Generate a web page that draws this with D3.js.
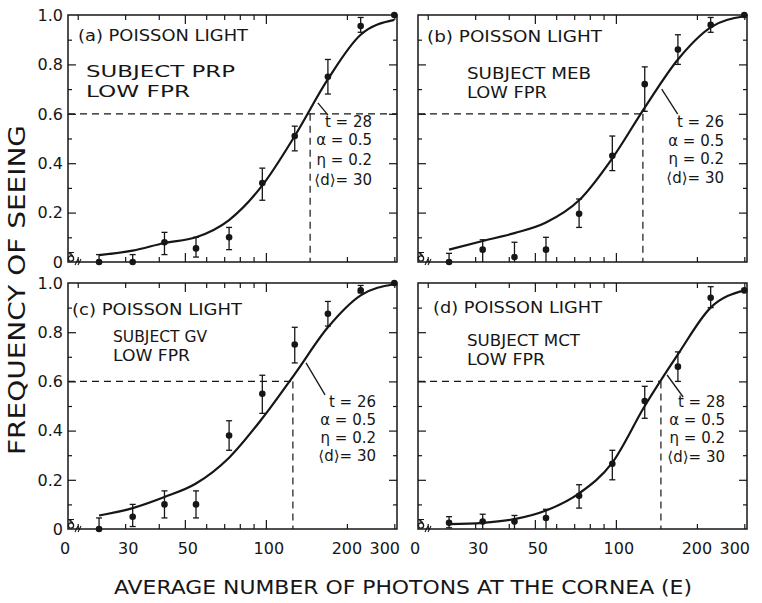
<!DOCTYPE html>
<html><head><meta charset="utf-8">
<script src="https://cdn.jsdelivr.net/npm/d3@7"></script>
<style>body{margin:0;background:#fff}svg{display:block}</style>
</head><body><svg id="chart" width="762" height="603"></svg>
<script>
// ---------------- data ----------------
const panelLetters = ["a", "b", "c", "d"];
const subjects = ["PRP", "MEB", "GV", "MCT"];
const thresholdT = [28, 26, 26, 28];
const alphaVals = [0.5, 0.5, 0.5, 0.5];
const etaVals = [0.2, 0.2, 0.2, 0.2];
const darkVals = [30, 30, 30, 30];
const photons = [24, 32, 42, 55, 73, 97, 128, 170, 225, 300];
const freqA = [0, 0, 0.08, 0.055, 0.10, 0.32, 0.51, 0.75, 0.955, 1.0];
const loA   = [0, 0, 0.03, 0.02, 0.05, 0.25, 0.45, 0.68, 0.93, 1.0];
const hiA   = [0.03, 0.03, 0.12, 0.10, 0.14, 0.38, 0.55, 0.82, 0.99, 1.0];
const freqB = [0, 0.05, 0.02, 0.05, 0.195, 0.43, 0.72, 0.86, 0.96, 1.0];
const loB   = [0, 0, 0, 0, 0.14, 0.37, 0.61, 0.80, 0.93, 1.0];
const hiB   = [0.035, 0.09, 0.08, 0.10, 0.255, 0.51, 0.79, 0.92, 0.99, 1.0];
const freqC = [0, 0.05, 0.10, 0.10, 0.38, 0.55, 0.75, 0.875, 0.97, 1.0];
const loC   = [0, 0.01, 0.045, 0.045, 0.32, 0.47, 0.675, 0.825, 0.96, 1.0];
const hiC   = [0.045, 0.10, 0.155, 0.155, 0.44, 0.625, 0.82, 0.925, 0.99, 1.0];
const freqD = [0.025, 0.03, 0.03, 0.045, 0.135, 0.265, 0.52, 0.66, 0.94, 0.97];
const loD   = [0.005, 0, 0, 0, 0.085, 0.20, 0.45, 0.60, 0.90, 0.97];
const hiD   = [0.05, 0.06, 0.055, 0.08, 0.18, 0.32, 0.58, 0.72, 0.985, 0.97];
// fitted curves read at the same intensities
const curveA = [0.028, 0.046, 0.077, 0.10, 0.17, 0.31, 0.51, 0.74, 0.92, 0.98];
const curveB = [0.05, 0.085, 0.117, 0.16, 0.25, 0.42, 0.625, 0.82, 0.95, 0.995];
const curveC = [0.055, 0.085, 0.13, 0.185, 0.29, 0.45, 0.63, 0.82, 0.95, 0.995];
const curveD = [0.02, 0.025, 0.04, 0.075, 0.145, 0.27, 0.50, 0.71, 0.90, 0.97];
const blankFreq = [0.01, 0.01, 0.01, 0.01];
const thresholdE = [146, 126, 126, 147];   // intensity at 60% seeing
const criterion = 0.6;
const xTickMinor = [20, 30, 40, 60, 70, 80, 90, 200, 300];
const xTickMajor = [50, 100];
const xTickLabels = ["30", "50", "100", "200"];
const yTickLabels = ["0.2", "0.4", "0.6", "0.8", "1.0"];

// ---------------- layout ----------------
const freqs = [freqA, freqB, freqC, freqD];
const los = [loA, loB, loC, loD];
const his = [hiA, hiB, hiC, hiD];
const curves = [curveA, curveB, curveC, curveD];
const L = {
  left: [68, 418, 68, 418], top: [15, 15, 283, 283], h: [247, 247, 246, 246], w: 329,
  title: [[10, 26, 170], [9, 27, 175], [4, 32, 170], [15, 30, 169]],
  subj: [[18, 62, 149], [49, 64, 124], [45, 59, 94], [49, 63, 113]],
  low: [[18, 82, 104], [49, 83, 80], [45, 78, 77], [49, 82, 78]],
  annEnd: [304, 306, 308, 307],
  annY: [[112, 130, 150, 170], [112, 131, 149, 168], [124, 142, 160, 178], [124, 142, 160, 179]],
  leader: [[156, 0.644, 10, 12], [148, 0.70, 16, 25], [141, 0.675, 19, 32], [155, 0.626, 16, 22]],
  dashFull: [true, false, false, false],
  xLabOffset: [3, 3, 3, 0]
};
const ink = "#161616";
const font = "'DejaVu Sans', sans-serif";
const svg = d3.select("#chart");
svg.append("rect").attr("width", 762).attr("height", 603).attr("fill", "#fff");

const x = d3.scaleLog().domain([18.4, 307]).range([0, L.w]);

panelLetters.forEach((letter, i) => {
  const h = L.h[i], w = L.w;
  const y = d3.scaleLinear().domain([0, 1]).range([h, 0]);
  const g = svg.append("g").attr("transform", `translate(${L.left[i]},${L.top[i]})`);

  // ticks
  const tickStyle = sel => { sel.select(".domain").remove(); sel.selectAll("text").remove();
    sel.selectAll("line").attr("stroke", ink).attr("stroke-width", 1.2); };
  g.append("g").attr("transform", `translate(0,${h})`).call(d3.axisBottom(x).tickValues(xTickMinor).tickSize(-5)).call(tickStyle);
  g.append("g").attr("transform", `translate(0,${h})`).call(d3.axisBottom(x).tickValues(xTickMajor).tickSize(-9)).call(tickStyle);
  g.append("g").call(d3.axisTop(x).tickValues(xTickMinor).tickSize(-5)).call(tickStyle);
  g.append("g").call(d3.axisTop(x).tickValues(xTickMajor).tickSize(-9)).call(tickStyle);
  const yMinor = [0.1, 0.3, 0.5, 0.7, 0.9], yMajor = [0.2, 0.4, 0.6, 0.8];
  g.append("g").call(d3.axisLeft(y).tickValues(yMinor).tickSize(-4)).call(tickStyle);
  g.append("g").call(d3.axisLeft(y).tickValues(yMajor).tickSize(-8)).call(tickStyle);
  g.append("g").attr("transform", `translate(${w},0)`).call(d3.axisRight(y).tickValues(yMinor).tickSize(-4)).call(tickStyle);
  g.append("g").attr("transform", `translate(${w},0)`).call(d3.axisRight(y).tickValues(yMajor).tickSize(-8)).call(tickStyle);

  // frame
  g.append("rect").attr("width", w).attr("height", h).attr("fill", "none")
    .attr("stroke", ink).attr("stroke-width", 1.5);

  // axis break + blank point
  g.append("path").attr("d", `M${7},${h + 3}L${10},${h - 3}M${10},${h + 3}L${13},${h - 3}`)
    .attr("stroke", ink).attr("stroke-width", 1.1).attr("fill", "none");
  const by = y(blankFreq[i]);
  g.append("circle").attr("cx", 3).attr("cy", by - 1).attr("r", 2.6).attr("fill", "none").attr("stroke", ink).attr("stroke-width", 1.3);
  g.append("path").attr("d", `M0,${by - 7}L6,${by - 7}M3,${by - 7}L3,${by - 3.5}M1,${by - 6}L5,${by - 4}`)
    .attr("stroke", ink).attr("stroke-width", 1.1);

  // dashed criterion lines
  const xt = x(thresholdE[i]);
  g.append("line").attr("x1", 0).attr("x2", L.dashFull[i] ? w : xt)
    .attr("y1", y(criterion)).attr("y2", y(criterion))
    .attr("stroke", ink).attr("stroke-width", 1.2).attr("stroke-dasharray", "7,5");
  g.append("line").attr("x1", xt).attr("x2", xt).attr("y1", y(criterion)).attr("y2", h)
    .attr("stroke", ink).attr("stroke-width", 1.2).attr("stroke-dasharray", "7,5");

  // fitted curve
  const line = d3.line().x(d => x(d[0])).y(d => y(d[1])).curve(d3.curveMonotoneX);
  g.append("path").datum(photons.map((e, k) => [e, curves[i][k]]))
    .attr("d", line).attr("fill", "none").attr("stroke", ink).attr("stroke-width", 2.2);

  // data points with error bars
  photons.forEach((e, k) => {
    const px = x(e), lo = y(los[i][k]), hi = y(his[i][k]);
    if (Math.abs(lo - hi) > 1) {
      g.append("line").attr("x1", px).attr("x2", px).attr("y1", lo).attr("y2", hi).attr("stroke", ink).attr("stroke-width", 1.3);
      g.append("line").attr("x1", px - 3).attr("x2", px + 3).attr("y1", hi).attr("y2", hi).attr("stroke", ink).attr("stroke-width", 1.3);
      if (los[i][k] > 0) g.append("line").attr("x1", px - 3).attr("x2", px + 3).attr("y1", lo).attr("y2", lo).attr("stroke", ink).attr("stroke-width", 1.3);
    }
    g.append("circle").attr("cx", px).attr("cy", y(freqs[i][k])).attr("r", 3.3).attr("fill", ink);
  });

  // leader line
  const ld = L.leader[i];
  const lx = x(ld[0]), ly = y(ld[1]);
  g.append("line").attr("x1", lx).attr("y1", ly).attr("x2", lx + ld[2]).attr("y2", ly + ld[3])
    .attr("stroke", ink).attr("stroke-width", 1.3);

  // texts
  const txt = (s, tx, ty, len, size) => g.append("text").attr("x", tx).attr("y", ty)
    .attr("font-family", font).attr("font-size", size).attr("fill", ink)
    .attr("textLength", len).attr("lengthAdjust", "spacingAndGlyphs").text(s);
  txt(`(${letter}) POISSON LIGHT`, L.title[i][0], L.title[i][1], L.title[i][2], 16.5);
  txt(`SUBJECT ${subjects[i]}`, L.subj[i][0], L.subj[i][1], L.subj[i][2], 16);
  txt("LOW FPR", L.low[i][0], L.low[i][1], L.low[i][2], 16);
  const ann = [`t = ${thresholdT[i]}`, `α = ${alphaVals[i]}`, `η = ${etaVals[i]}`, `⟨d⟩= ${darkVals[i]}`];
  ann.forEach((s, k) => g.append("text").attr("x", L.annEnd[i]).attr("y", L.annY[i][k])
    .attr("text-anchor", "end").attr("font-family", font).attr("font-size", 15).attr("fill", ink).text(s));

  // y labels on left panels
  if (i % 2 === 0) {
    yMajor.concat([1.0]).forEach((v, k) => g.append("text").attr("x", -5).attr("y", y(v)).attr("dy", "0.36em")
      .attr("text-anchor", "end").attr("font-family", font).attr("font-size", 16).attr("fill", ink).text(yTickLabels[k]));
    g.append("text").attr("x", -5).attr("y", h).attr("dy", "0.36em").attr("text-anchor", "end")
      .attr("font-family", font).attr("font-size", 16).attr("fill", ink).text("0");
  }
  // x labels on bottom panels
  if (i >= 2) {
    const lab = (s, tx, anchor) => g.append("text").attr("x", tx).attr("y", h + 25).attr("text-anchor", anchor)
      .attr("font-family", font).attr("font-size", 16).attr("fill", ink).text(s);
    lab("0", -3, "middle");
    [30, 50, 100, 200].forEach((v, k) => lab(xTickLabels[k], x(v) + L.xLabOffset[k], "middle"));
    lab("300", w + 3, "end");
  }
});

// axis titles
svg.append("text").attr("x", 403).attr("y", 594).attr("text-anchor", "middle")
  .attr("font-family", font).attr("font-size", 20).attr("fill", ink)
  .attr("textLength", 578).attr("lengthAdjust", "spacingAndGlyphs")
  .text("AVERAGE NUMBER OF PHOTONS AT THE CORNEA (E)");
svg.append("text").attr("transform", "translate(25,290) rotate(-90)").attr("text-anchor", "middle")
  .attr("font-family", font).attr("font-size", 23).attr("fill", ink)
  .attr("textLength", 330).attr("lengthAdjust", "spacingAndGlyphs")
  .text("FREQUENCY OF SEEING");
</script></body></html>
